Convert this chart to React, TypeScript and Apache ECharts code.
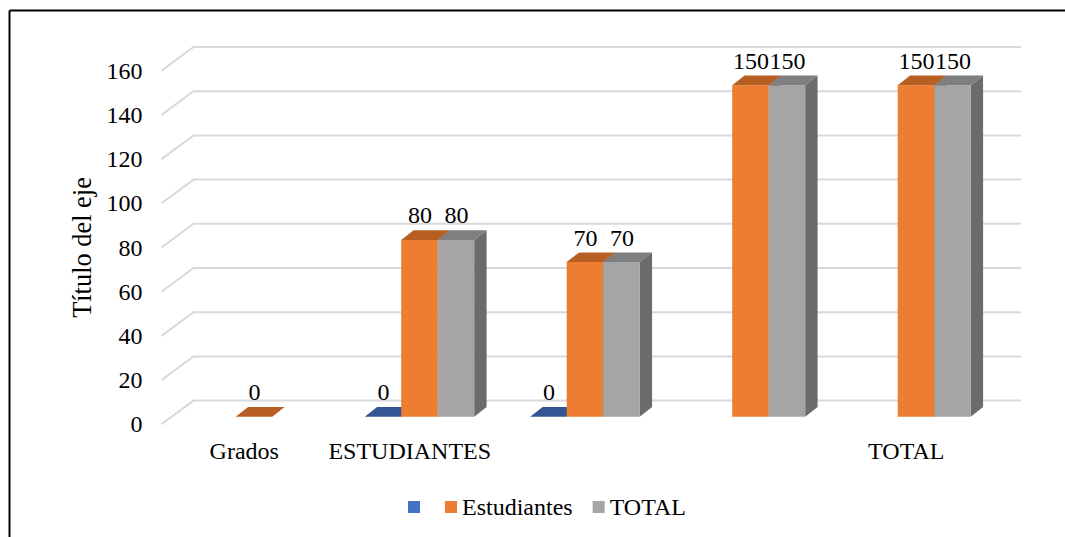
import React, { useEffect, useRef } from "react";
import * as echarts from "echarts";

const categories = ["Grados", "ESTUDIANTES", "", "", "TOTAL"];
const blankValues: (number | null)[] = [null, 0, 0, null, null];
const estudiantesValues: (number | null)[] = [0, 80, 70, 150, 150];
const totalValues: (number | null)[] = [null, 80, 70, 150, 150];
const gridValues = [0, 20, 40, 60, 80, 100, 120, 140, 160];

const FONT = '"Liberation Serif", "Times New Roman", serif';
const BAR_SHIFT = { x: 9.7, y: 7.6 };
const BAR_DEPTH = { x: 12.4, y: 9.6 };
const WALL_SHIFT = { x: 32, y: 23.7 };

const palette = [
  { front: "#4472C4", top: "#335593", side: "#2A4678" },
  { front: "#ED7D31", top: "#B75F23", side: "#8E4A1B" },
  { front: "#A5A5A5", top: "#7F7F7F", side: "#6B6B6B" },
];

function barItem(seriesIdx: number) {
  return (params: any, api: any) => {
    const value = api.value(1);
    if (value === null || value === undefined || Number.isNaN(value)) return undefined;
    const idx = api.value(0);
    const band = api.size([1, 0])[0];
    const w = band * 0.2205;
    const center = api.coord([idx, 0])[0] + BAR_SHIFT.x + (seriesIdx - 1) * w;
    const x0 = center - w / 2;
    const x1 = center + w / 2;
    const yBase = api.coord([idx, 0])[1] - BAR_SHIFT.y;
    const yTop = api.coord([idx, value])[1] - BAR_SHIFT.y;
    const c = palette[seriesIdx];
    const dx = BAR_DEPTH.x;
    const dy = BAR_DEPTH.y;
    const children: any[] = [];
    if (value > 0) {
      children.push({
        type: "polygon",
        shape: { points: [[x1, yBase], [x1 + dx, yBase - dy], [x1 + dx, yTop - dy], [x1, yTop]] },
        style: { fill: c.side },
      });
      children.push({
        type: "rect",
        shape: { x: x0, y: yTop, width: x1 - x0, height: yBase - yTop },
        style: { fill: c.front },
      });
    }
    children.push({
      type: "polygon",
      shape: { points: [[x0, yTop], [x0 + dx, yTop - dy], [x1 + dx, yTop - dy], [x1, yTop]] },
      style: { fill: c.top },
    });
    children.push({
      type: "text",
      z2: 50,
      style: {
        text: String(value),
        x: center + 0.5,
        y: yTop - 24.5,
        align: "center",
        verticalAlign: "middle",
        fill: "#000000",
        font: `24px ${FONT}`,
      },
    });
    return { type: "group", children };
  };
}

function gridItem(params: any, api: any) {
  const value = api.value(0);
  const band = api.size([1, 0])[0];
  const [first, y] = api.coord([0, value]);
  const last = api.coord([categories.length - 1, value])[0];
  const left = first - band / 2;
  const right = last + band / 2;
  return {
    type: "polyline",
    shape: {
      points: [
        [left, y],
        [left + WALL_SHIFT.x, y - WALL_SHIFT.y],
        [right + WALL_SHIFT.x, y - WALL_SHIFT.y],
      ],
    },
    style: { stroke: "#D9D9D9", lineWidth: 2, fill: "none" },
  };
}

const toData = (values: (number | null)[]) => values.map((v, i) => [i, v]);

const legendBase = {
  padding: 0,
  itemWidth: 12,
  itemHeight: 12,
  itemGap: 20,
  selectedMode: false,
  icon: "rect",
  textStyle: { color: "#000000", fontFamily: FONT, fontSize: 24 },
};

export default function App() {
  const ref = useRef<HTMLDivElement>(null);
  useEffect(() => {
    const chart = echarts.init(ref.current!, undefined, { renderer: "svg" });
    chart.setOption({
      animation: false,
      backgroundColor: "#ffffff",
      grid: { left: 161.5, top: 70.7, width: 827.5, height: 353.6, containLabel: false },
      xAxis: {
        type: "category",
        data: categories,
        axisLine: { show: false },
        axisTick: { show: false },
        splitLine: { show: false },
        axisLabel: { interval: 0, color: "#000000", fontFamily: FONT, fontSize: 24, margin: 15 },
      },
      yAxis: {
        type: "value",
        min: 0,
        max: 160,
        interval: 20,
        name: "Título del eje",
        nameLocation: "middle",
        nameRotate: 90,
        nameGap: 67,
        nameTextStyle: { color: "#000000", fontFamily: FONT, fontSize: 26.4 },
        axisLine: { show: false },
        axisTick: { show: false },
        splitLine: { show: false },
        axisLabel: { color: "#000000", fontFamily: FONT, fontSize: 24, margin: 19, padding: [3, 0, 0, 0] },
      },
      legend: [
        { ...legendBase, left: 408, top: 501, data: [" "], formatter: () => "" },
        { ...legendBase, left: 445, top: 495, data: ["Estudiantes", "TOTAL"] },
      ],
      graphic: [
        { type: "line", silent: true, shape: { x1: 9.5, y1: 10.5, x2: 1065, y2: 10.5 }, style: { stroke: "#000000", lineWidth: 2 } },
        { type: "line", silent: true, shape: { x1: 9.5, y1: 10.5, x2: 9.5, y2: 537 }, style: { stroke: "#000000", lineWidth: 2 } },
      ],
      series: [
        {
          type: "custom",
          name: "grid",
          renderItem: gridItem,
          data: gridValues.map((v) => [v]),
          encode: { y: 0 },
          silent: true,
          z: 1,
        },
        {
          type: "custom",
          name: " ",
          renderItem: barItem(0),
          data: toData(blankValues),
          encode: { x: 0, y: 1 },
          itemStyle: { color: palette[0].front },
          z: 2,
        },
        {
          type: "custom",
          name: "Estudiantes",
          renderItem: barItem(1),
          data: toData(estudiantesValues),
          encode: { x: 0, y: 1 },
          itemStyle: { color: palette[1].front },
          z: 3,
        },
        {
          type: "custom",
          name: "TOTAL",
          renderItem: barItem(2),
          data: toData(totalValues),
          encode: { x: 0, y: 1 },
          itemStyle: { color: palette[2].front },
          z: 4,
        },
      ],
    });
    return () => chart.dispose();
  }, []);
  return (
    <div
      ref={ref}
      style={{ position: "fixed", left: 0, top: 0, width: 1065, height: 537, background: "#fff" }}
    />
  );
}
